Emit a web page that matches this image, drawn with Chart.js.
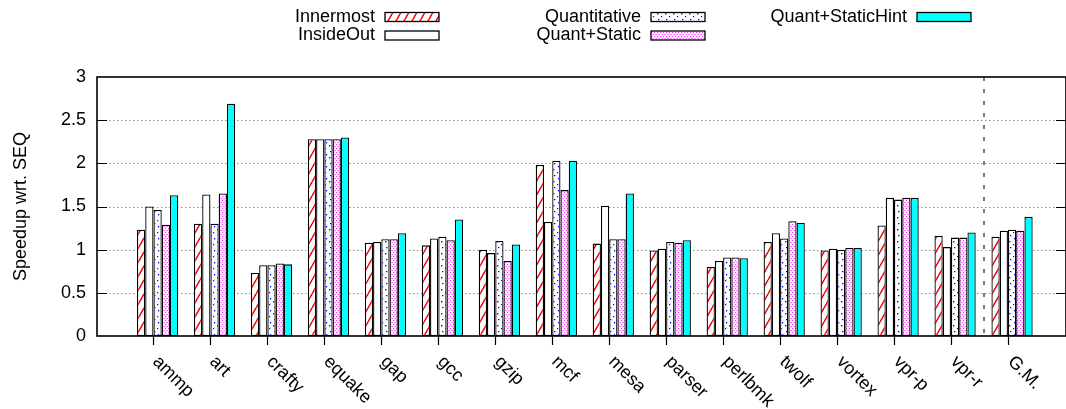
<!DOCTYPE html>
<html>
<head>
<meta charset="utf-8">
<script src="https://cdn.jsdelivr.net/npm/chart.js@4/dist/chart.umd.min.js"></script>
<style>
  html, body { margin: 0; padding: 0; background: #fff; }
  canvas { display: block; }
</style>
</head>
<body>
<canvas id="c" width="1066" height="409"></canvas>
<script>
// Benchmarks and the geometric mean, speedup relative to sequential execution
const benchmarks   = ['ammp', 'art', 'crafty', 'equake', 'gap', 'gcc', 'gzip', 'mcf',
                      'mesa', 'parser', 'perlbmk', 'twolf', 'vortex', 'vpr-p', 'vpr-r', 'G.M.'];
const seriesNames  = ['Innermost', 'InsideOut', 'Quantitative', 'Quant+Static', 'Quant+StaticHint'];
const innermost    = [1.23, 1.30, 0.73, 2.28, 1.08, 1.05, 1.00, 1.98, 1.07, 0.99, 0.80, 1.09, 0.99, 1.28, 1.16, 1.15];
const insideOut    = [1.50, 1.64, 0.82, 2.28, 1.09, 1.13, 0.96, 1.32, 1.51, 1.01, 0.87, 1.19, 1.01, 1.60, 1.03, 1.22];
const quantitative = [1.46, 1.30, 0.82, 2.28, 1.12, 1.15, 1.10, 2.03, 1.12, 1.09, 0.91, 1.13, 1.00, 1.58, 1.14, 1.23];
const quantStatic  = [1.29, 1.65, 0.84, 2.28, 1.12, 1.11, 0.87, 1.69, 1.12, 1.08, 0.91, 1.33, 1.02, 1.60, 1.14, 1.22];
const quantHint    = [1.63, 2.69, 0.83, 2.30, 1.19, 1.35, 1.06, 2.03, 1.65, 1.11, 0.90, 1.31, 1.02, 1.60, 1.20, 1.38];
const yTicks       = [0, 0.5, 1, 1.5, 2, 2.5, 3];

const FONT = '"Liberation Sans", Arial, Helvetica, sans-serif';
const GROUP_FRACTION = 0.724;                       // share of a slot covered by the 5 bars
const TICK_SHIFT = GROUP_FRACTION / seriesNames.length / 2; // tick sits on the left edge of the middle bar

const canvas = document.getElementById('c');
const mainCtx = canvas.getContext('2d');

function makePattern(w, h, paint) {
  const t = document.createElement('canvas');
  t.width = w; t.height = h;
  const g = t.getContext('2d');
  g.fillStyle = '#fff';
  g.fillRect(0, 0, w, h);
  paint(g, w, h);
  return mainCtx.createPattern(t, 'repeat');
}

const hatchRed = makePattern(8, 14, (g, w, h) => {
  g.strokeStyle = '#ff0000';
  g.lineWidth = 1.5;
  for (const dx of [-w, 0, w]) {
    g.beginPath(); g.moveTo(dx, h); g.lineTo(dx + w, 0); g.stroke();
  }
});
const dotsBlue = makePattern(8, 12, (g) => {
  g.fillStyle = '#0000ff';
  g.fillRect(1, 1, 1.4, 1.4);
  g.fillRect(5, 4, 1.2, 1.2);
  g.fillRect(2, 7, 1.4, 1.2);
  g.fillRect(6, 10, 1.2, 1.4);
});
const dotsMagenta = makePattern(6, 4, (g) => {
  g.fillStyle = '#ff33ff';
  g.fillRect(0, 0, 1.2, 1.2);
  g.fillRect(3, 0, 1.2, 1.2);
  g.fillRect(1.5, 2, 1.2, 1.2);
  g.fillRect(4.5, 2, 1.2, 1.2);
});

const fills = [hatchRed, '#ffffff', dotsBlue, dotsMagenta, '#00ffff'];
const values = [innermost, insideOut, quantitative, quantStatic, quantHint];

const datasets = seriesNames.map((name, k) => ({
  label: name,
  data: values[k].map((v, i) => ({ x: i, y: v })),
  backgroundColor: fills[k],
  borderColor: '#000',
  borderWidth: 1.3,
  borderSkipped: false
}));

const decorations = {
  id: 'decorations',
  beforeDatasetsDraw(chart) {
    const { ctx, chartArea: a, scales: { y } } = chart;
    ctx.save();
    ctx.strokeStyle = '#8a8a8a';
    ctx.lineWidth = 1.2;
    ctx.setLineDash([1.4, 2.6]);
    yTicks.forEach(v => {
      if (v <= y.min || v >= y.max) return;
      const py = Math.round(y.getPixelForValue(v)) + 0.5;
      ctx.beginPath(); ctx.moveTo(a.left, py); ctx.lineTo(a.right, py); ctx.stroke();
    });
    ctx.restore();
  },
  afterDatasetsDraw(chart) {
    const { ctx, chartArea: a, scales: { x, y } } = chart;
    ctx.save();

    // separator before the summary group
    const sepX = Math.round(x.getPixelForValue((benchmarks.length - 2 + benchmarks.length - 1) / 2));
    ctx.strokeStyle = '#7a7a7a';
    ctx.lineWidth = 2;
    ctx.setLineDash([4, 8]);
    ctx.beginPath(); ctx.moveTo(sepX, a.top); ctx.lineTo(sepX, a.bottom); ctx.stroke();
    ctx.setLineDash([]);

    // frame
    ctx.strokeStyle = '#000';
    ctx.lineWidth = 1.6;
    ctx.strokeRect(a.left, a.top, a.right - a.left, a.bottom - a.top);

    // y ticks (inside, both sides)
    ctx.lineWidth = 1.2;
    yTicks.forEach(v => {
      if (v <= y.min || v >= y.max) return;
      const py = Math.round(y.getPixelForValue(v)) + 0.5;
      ctx.beginPath();
      ctx.moveTo(a.left, py); ctx.lineTo(a.left + 10, py);
      ctx.moveTo(a.right - 10, py); ctx.lineTo(a.right, py);
      ctx.stroke();
    });

    // x ticks (outside) and rotated category labels
    ctx.font = '18px ' + FONT;
    ctx.fillStyle = '#000';
    ctx.textAlign = 'left';
    ctx.textBaseline = 'middle';
    benchmarks.forEach((name, i) => {
      const px = Math.round(x.getPixelForValue(i - TICK_SHIFT)) + 0.5;
      ctx.beginPath(); ctx.moveTo(px, a.bottom); ctx.lineTo(px, a.bottom + 9); ctx.stroke();
      ctx.save();
      ctx.translate(px + 2, a.bottom + 23);
      ctx.rotate(Math.PI / 4);
      ctx.fillText(name, 0, 0);
      ctx.restore();
    });
    ctx.restore();
  },
  afterDraw(chart) {
    // key: text right-aligned in front of its sample box, filled column by column
    const { ctx } = chart;
    ctx.save();
    ctx.font = '18px ' + FONT;
    ctx.textAlign = 'right';
    ctx.textBaseline = 'middle';
    chart.data.datasets.forEach((ds, k) => {
      const col = Math.floor(k / 2), row = k % 2;
      const bx = 385 + col * 266;
      const cy = 17 + row * 18.5;
      ctx.fillStyle = '#000';
      ctx.fillText(ds.label, bx - 10, cy);
      ctx.fillStyle = ds.backgroundColor;
      ctx.fillRect(bx, cy - 4.5, 54, 9);
      ctx.strokeStyle = '#000';
      ctx.lineWidth = 1.3;
      ctx.strokeRect(bx, cy - 4.5, 54, 9);
    });
    ctx.restore();
  }
};

Chart.defaults.font.family = FONT;
Chart.defaults.font.size = 18;
Chart.defaults.color = '#000';

new Chart(canvas, {
  type: 'bar',
  data: { datasets },
  plugins: [decorations],
  options: {
    responsive: false,
    animation: false,
    devicePixelRatio: 1,
    layout: { padding: { top: 77, bottom: 73, left: 0, right: -4 } },
    plugins: { legend: { display: false }, tooltip: { enabled: false } },
    datasets: { bar: { categoryPercentage: GROUP_FRACTION, barPercentage: 1 } },
    scales: {
      x: {
        type: 'linear',
        display: false,
        offset: false,
        grid: { offset: false },
        min: -1.064,
        max: 15.947,
        afterBuildTicks: s => { s.ticks = benchmarks.map((_, i) => ({ value: i })); }
      },
      y: {
        min: 0,
        max: 3,
        afterBuildTicks: s => { s.ticks = yTicks.map(v => ({ value: v })); },
        afterFit: s => { s.width = 97; },
        grid: { display: false, drawTicks: false },
        border: { display: false },
        ticks: { padding: 11, color: '#000', font: { size: 18 }, callback: v => String(v) },
        title: { display: true, text: 'Speedup wrt. SEQ', color: '#000', font: { size: 18 }, padding: { top: 10, bottom: 0 } }
      }
    }
  }
});
</script>
</body>
</html>
